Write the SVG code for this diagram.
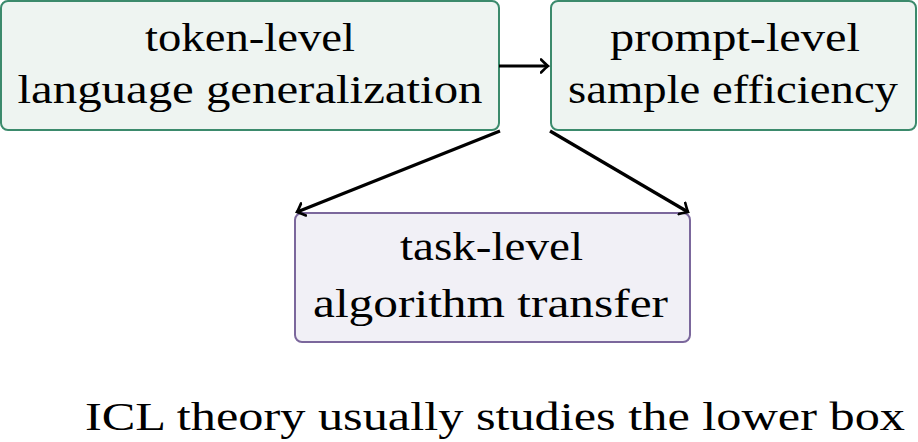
<svg xmlns="http://www.w3.org/2000/svg" width="918" height="442" viewBox="0 0 918 442">
<style>
.g{fill:#eef4f1;stroke:#3b8a6c;stroke-width:2}
.p{fill:#f1f0f6;stroke:#7b679c;stroke-width:2}
.c{stroke:#000;stroke-width:3.2;fill:none;marker-end:url(#ah)}
</style>
<defs>
<marker id="ah" viewBox="-8 -8 10 16" refX="0" refY="0" markerWidth="10" markerHeight="16" markerUnits="userSpaceOnUse" orient="auto">
<path d="M-7,-6.5 Q-2,-1.5 0,0 Q-2,1.5 -7,6.5" fill="none" stroke="#000" stroke-width="2.6" stroke-linecap="round"/>
</marker>
</defs>
<g font-family="'Liberation Serif', 'DejaVu Serif', serif" font-size="41" text-anchor="middle" fill="#000">
<g id="token">
<rect class="g" x="1" y="1" width="498" height="129" rx="7"/>
<text x="250" y="51" textLength="210" lengthAdjust="spacingAndGlyphs">token-level</text>
<text x="250" y="103" textLength="465" lengthAdjust="spacingAndGlyphs">language generalization</text>
</g>
<g id="prompt">
<rect class="g" x="551" y="1" width="365" height="129" rx="7"/>
<text x="735" y="51" textLength="250" lengthAdjust="spacingAndGlyphs">prompt-level</text>
<text x="733" y="103" textLength="330" lengthAdjust="spacingAndGlyphs">sample efficiency</text>
</g>
<g id="task">
<rect class="p" x="295" y="213" width="395" height="129" rx="7"/>
<text x="491.5" y="260" textLength="183" lengthAdjust="spacingAndGlyphs">task-level</text>
<text x="490.5" y="317" textLength="355" lengthAdjust="spacingAndGlyphs">algorithm transfer</text>
</g>
<g id="connectors">
<path class="c" d="M499,66 L548,66"/>
<path class="c" d="M500,131 L297,212"/>
<path class="c" d="M550,131 L688,212"/>
</g>
<text x="495" y="430" textLength="820" lengthAdjust="spacingAndGlyphs">ICL theory usually studies the lower box</text>
</g>
</svg>
